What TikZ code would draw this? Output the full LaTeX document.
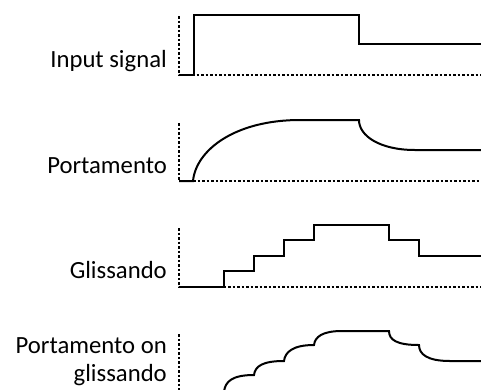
\documentclass[tikz,border=0pt]{standalone}
\usepackage{fontspec}
\setmainfont{Carlito}
\begin{document}
\begin{tikzpicture}[x=1pt,y=-1pt,
  axisline/.style={line width=2pt,dash pattern=on 2.5pt off 2pt},
  sig/.style={line width=2pt,line join=miter},
  lbl/.style={anchor=base east,inner sep=0pt,font=\fontsize{24.7}{28}\selectfont,align=right}]
\useasboundingbox (0,0) rectangle (481,389);
\clip (0,0) rectangle (481,389);
% panel 1
\draw[axisline] (179,16) -- (179,75) -- (481,75);
\draw[sig] (179,75) -- (194,75) -- (194,15) -- (359,15) -- (359,44) -- (481,44);
\node[lbl] (l1) at (167,67) {Input signal};
% panel 2
\draw[axisline] (179,123) -- (179,181) -- (481,181);
\draw[sig] (179,181) -- (193,181) .. controls (196,150) and (235,120) .. (300,120)
  -- (359,120) .. controls (359,136) and (380,150) .. (415,150) -- (481,150);
\node[lbl] (l2) at (167,173) {Portamento};
% panel 3
\draw[axisline] (179,228) -- (179,287) -- (481,287);
\draw[sig] (179,287) -- (224,287) -- (224,271) -- (254,271) -- (254,256) -- (284,256)
  -- (284,240) -- (314,240) -- (314,225) -- (389,225) -- (389,240) -- (419,240) -- (419,256) -- (481,256);
\node[lbl] (l3) at (167,278) {Glissando};
% panel 4
\draw[axisline] (179,334) -- (179,392);
\draw[sig] (224,392) .. controls (225,381) and (233,375) .. (254,375)
  .. controls (255,366) and (263,361) .. (284,361)
  .. controls (285,352) and (293,345) .. (314,345)
  .. controls (315,337) and (322,331) .. (342,331)
  -- (389,331) .. controls (389,340) and (397,345) .. (419,345)
  .. controls (419,354) and (427,361) .. (450,361) -- (481,361);
\node[lbl] (l4) at (167,381) {Portamento on\\glissando};
\end{tikzpicture}
\end{document}
